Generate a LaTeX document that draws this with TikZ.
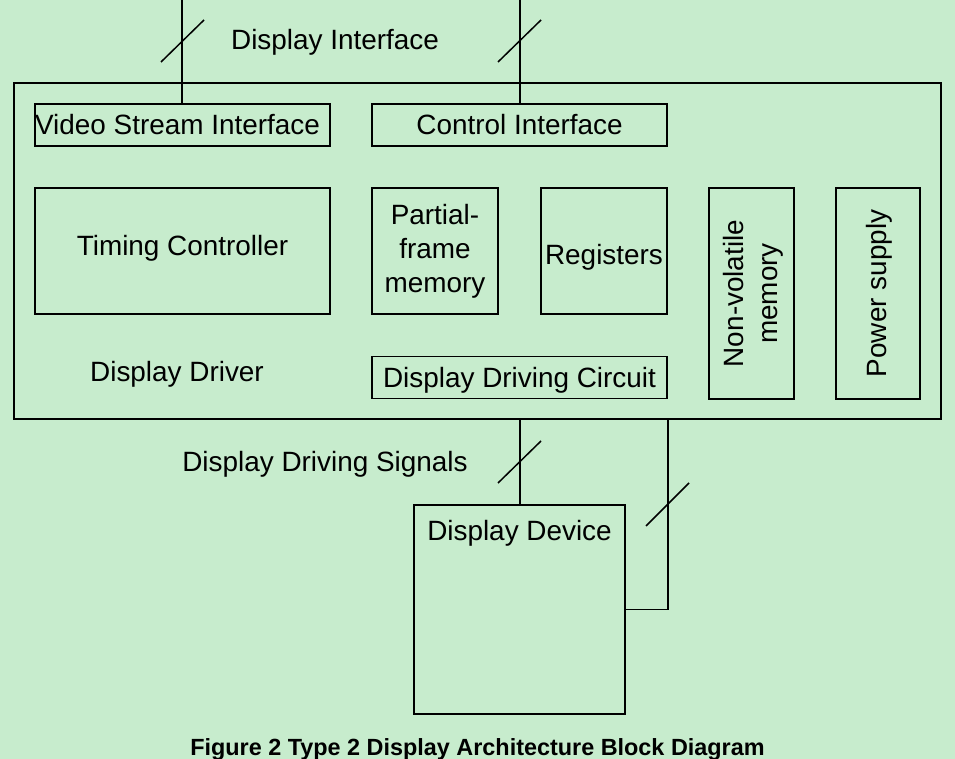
\documentclass[tikz,border=0pt]{standalone}
\usepackage{fontspec}
\setmainfont{Liberation Sans}
\usetikzlibrary{calc}
\definecolor{bgreen}{RGB}{199,236,205}
\begin{document}
\begin{tikzpicture}[x=1pt,y=-1pt,
  line width=1.4pt,
  blk/.style={draw, rectangle, inner sep=0pt, align=center,
    font=\fontsize{27.9}{34}\selectfont},
  lbl/.style={inner sep=0pt, font=\fontsize{27.9}{34}\selectfont},
  slashline/.style={line width=1.5pt},
  conn/.style={line width=1.6pt}]
\fill[bgreen] (0,0) rectangle (955,759);
\useasboundingbox (0,0) rectangle (955,759);

% outer driver box
\node[draw, rectangle, inner sep=0pt, minimum width=927pt, minimum height=336pt] (driver) at (477.5,251) {};

\node[blk, minimum width=295pt, minimum height=42pt] (vsi) at (182.5,125) {\hspace*{-10pt}Video Stream Interface};
\node[blk, minimum width=295pt, minimum height=42pt] (ci) at (519.5,125) {Control Interface};
\node[blk, minimum width=295pt, minimum height=126pt] (tc) at (182.5,251) {\raisebox{12pt}{Timing Controller}};
\node[blk, minimum width=126pt, minimum height=126pt] (pfm) at (435,251) {Partial-\\frame\\memory};
\node[blk, minimum width=126pt, minimum height=126pt,
  label={[lbl, yshift=-6pt]center:Registers}] (reg) at (604,251) {};
\node[blk, minimum width=85pt, minimum height=211pt] (nvm) at (751.5,293.5) {};
\node[lbl, rotate=90, align=center] (nvmt) at (753,293.5) {Non-volatile\\memory};
\node[blk, minimum width=84pt, minimum height=211pt] (ps) at (878,293.5) {};
\node[lbl, rotate=90] (pst) at (879,293.5) {Power supply};
\node[blk, minimum width=295pt, minimum height=42pt,
  label={[lbl, yshift=-3pt]center:Display Driving Circuit}] (ddc) at (519.5,377.5) {};
\node[lbl] (ddr) at (177,374) {Display Driver};

% display device
\node[draw, rectangle, inner sep=0pt, minimum width=211pt, minimum height=209pt,
  label={[lbl, anchor=north, yshift=-15pt]north:Display Device}] (dev) at (519.5,609.5) {};

% labels
\node[lbl] (dil) at (335,42.5) {Display Interface};
\node[lbl] (dds) at (325,464.5) {Display Driving Signals};
\node[inner sep=0pt, font=\fontsize{23.4}{28}\selectfont\bfseries] (cap) at (477.5,749.5) {Figure 2 Type 2 Display Architecture Block Diagram};

% connectors
\coordinate (vtop) at (182,0);
\coordinate (ctop) at (520,0);
\draw[conn] (vtop) -- (vtop |- vsi.north);
\draw[conn] (ctop) -- (ctop |- ci.north);
\draw[conn] (driver.south -| ctop) -- (dev.north -| ctop);
\draw[conn] (driver.south -| ddc.south east) |- (dev.east);

% bus slashes
\draw[slashline] (161,62) -- (204,20);
\draw[slashline] (498,62) -- (541,20);
\draw[slashline] (498,483) -- (541,441);
\draw[slashline] (646,526) -- (689,483);
\end{tikzpicture}
\end{document}
